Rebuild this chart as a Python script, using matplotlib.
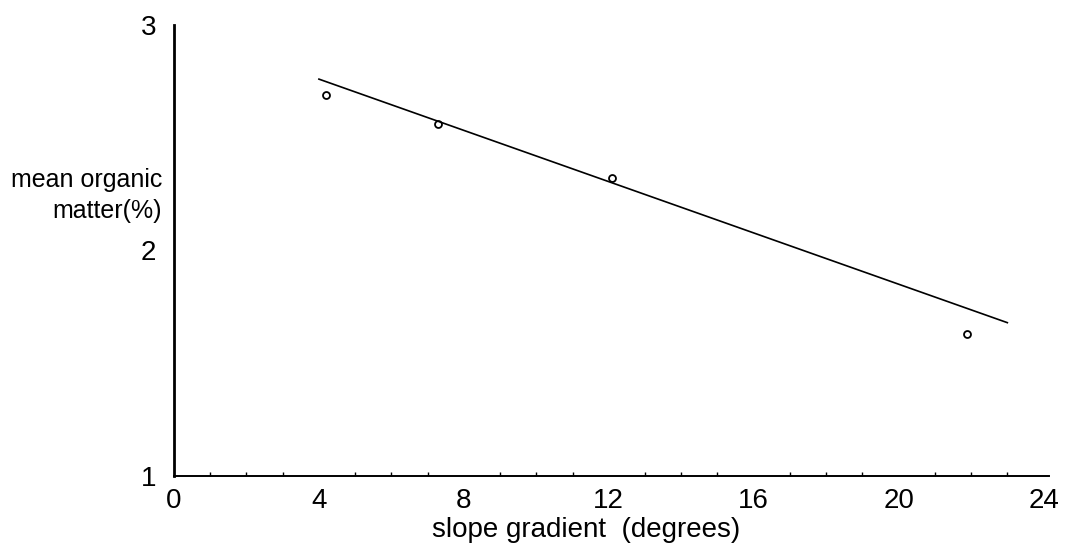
import matplotlib
matplotlib.use("Agg")
import matplotlib.pyplot as plt
from matplotlib.ticker import MultipleLocator

# ---- data ----
slope_deg = [4.2, 7.3, 12.1, 21.9]
organic_matter = [2.69, 2.56, 2.32, 1.63]
fit_x = [4.0, 23.0]
fit_y = [2.76, 1.68]
x_ticks = [0, 4, 8, 12, 16, 20, 24]
y_ticks = [1, 2, 3]
x_label = "slope gradient  (degrees)"
y_label_lines = ["mean organic", "matter(%)"]

W, H = 1068, 551
fig = plt.figure(figsize=(W / 100, H / 100), dpi=100)
left_px, right_px, top_px, bottom_px = 174, 1049, 25, 476
ax = fig.add_axes([left_px / W, 1 - bottom_px / H,
                   (right_px - left_px) / W, (bottom_px - top_px) / H])

ax.plot(fit_x, fit_y, color="black", lw=1.2)
ax.plot(slope_deg, organic_matter, linestyle="none", marker="o", ms=5,
        mfc="none", mec="black", mew=1.3)

ax.set_xlim(0, 24.15)
ax.set_ylim(1, 3)
ax.set_xticks(x_ticks)
ax.set_yticks(y_ticks)
ax.xaxis.set_minor_locator(MultipleLocator(1))

num_font = ["Liberation Sans", "DejaVu Sans"]
ax.set_xticklabels([str(v) for v in x_ticks], fontsize=20, family=num_font)
ax.set_yticklabels([str(v) for v in y_ticks], fontsize=20, family=num_font)
ax.tick_params(axis="x", which="major", length=0, pad=9)
ax.tick_params(axis="y", which="major", length=0, pad=13)
ax.tick_params(axis="x", which="minor", length=3, width=1, direction="in")

for s in ("top", "right"):
    ax.spines[s].set_visible(False)
ax.spines["left"].set_linewidth(2.0)
ax.spines["bottom"].set_linewidth(1.4)

fig.text(586 / W, 1 - 530 / H, x_label, ha="center", va="center",
         fontsize=20, family=num_font)
fig.text(162 / W, 1 - 180 / H, y_label_lines[0], ha="right", va="center",
         fontsize=18, family=num_font)
fig.text(162 / W, 1 - 211 / H, y_label_lines[1], ha="right", va="center",
         fontsize=18, family=num_font)

fig.savefig("out.png", dpi=100, facecolor="white")
